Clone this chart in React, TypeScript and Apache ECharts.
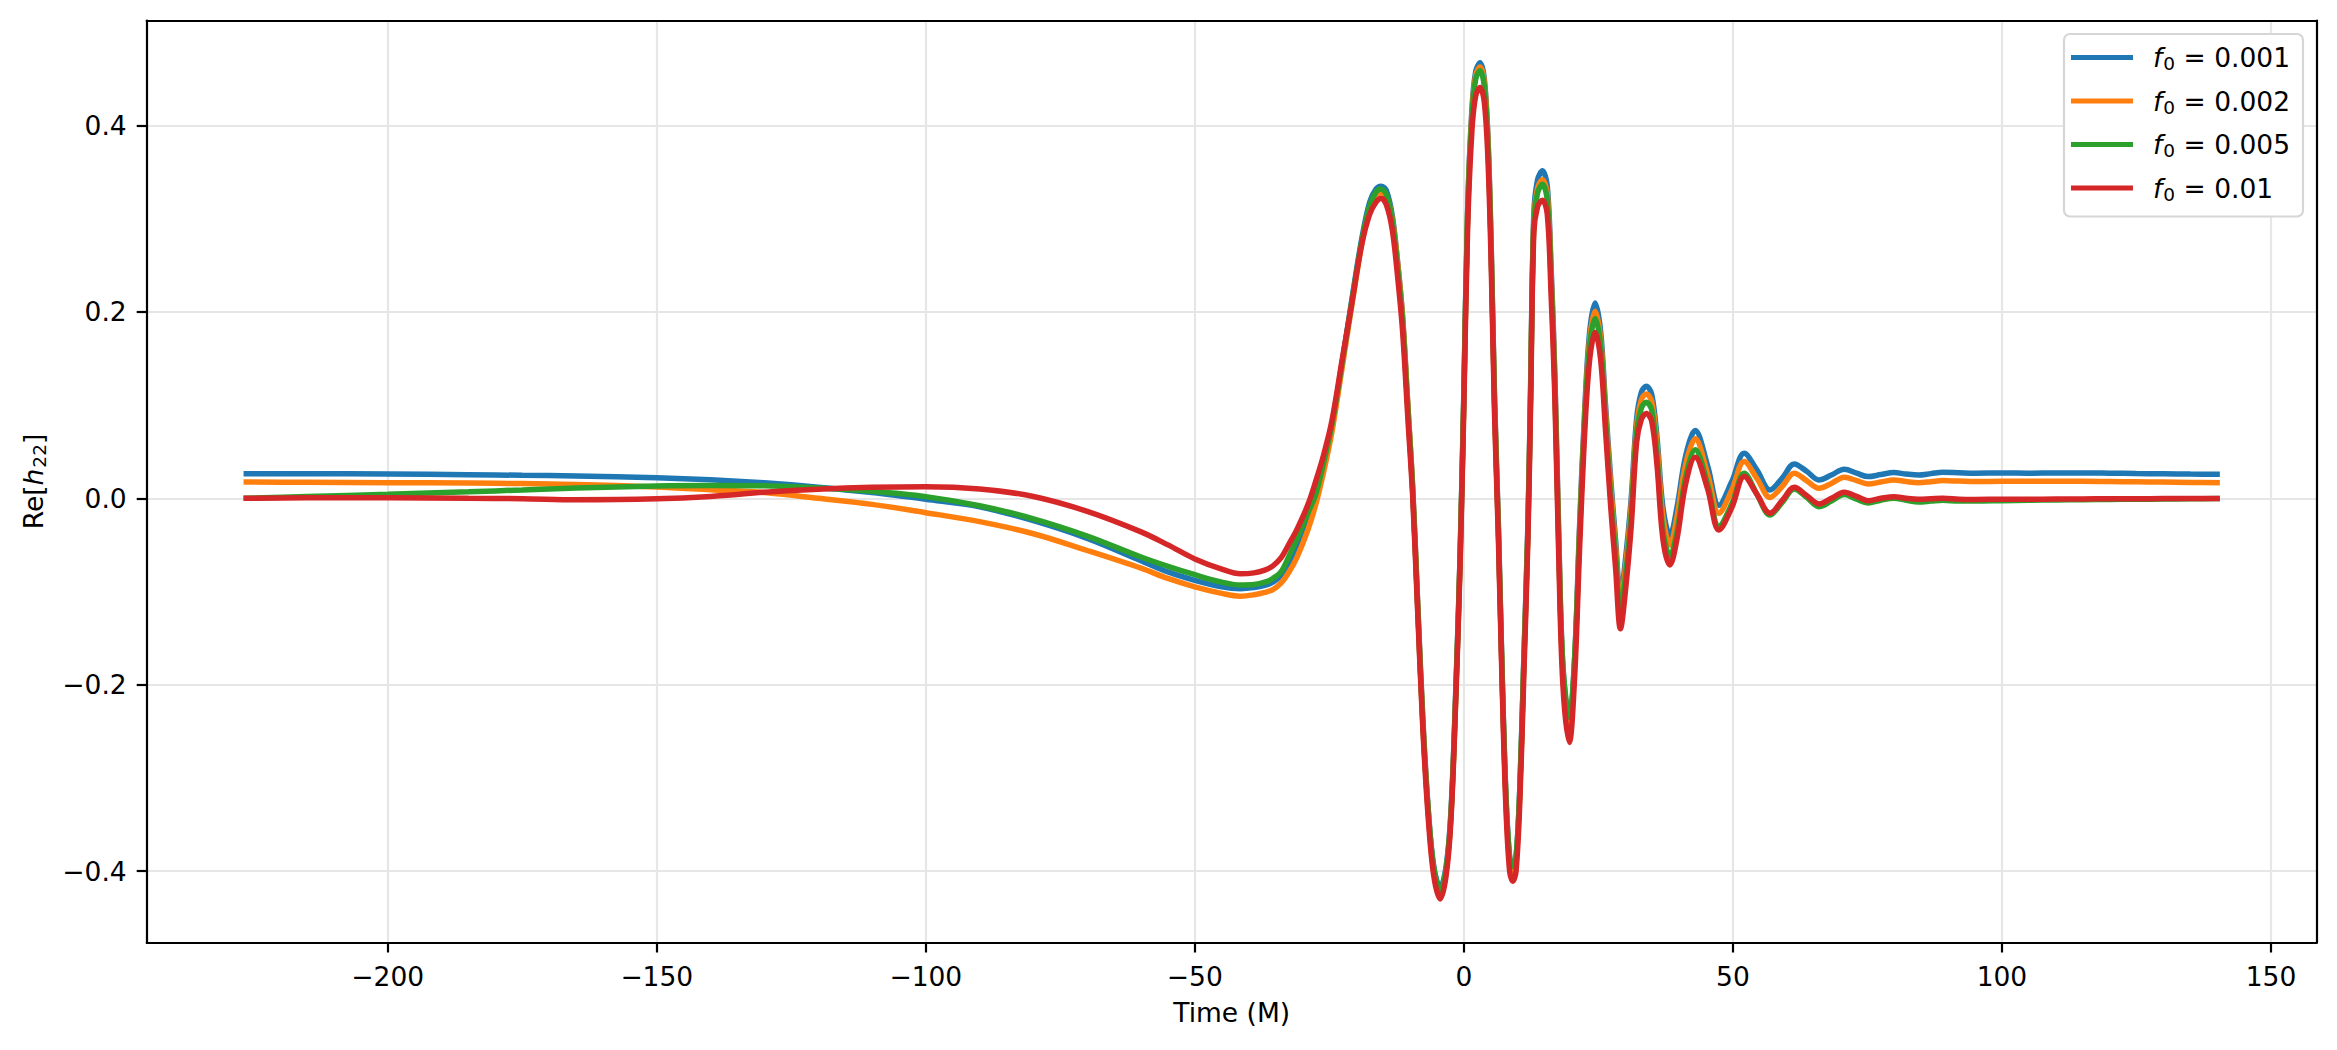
import React, { useEffect, useRef } from "react";
import * as echarts from "echarts";

const FONT = "DejaVu Sans";

// Time (M) sample grid shared by all series
const TIME = [
  -226.8, -215, -200, -185, -175, -165, -150, -140, -130, -120,
  -110, -100, -90, -80, -70, -60, -55, -50, -45, -41.5,
  -39, -37, -35.5, -34, -32.5, -31, -29, -27.5, -26, -24.5, -22.5, -20.8, -19,
  -17.5, -16.3, -15.4, -14.4, -13.3, -12.3, -11.4, -10.4, -9.5, -8.6,
  -7.6, -6.6, -5.6, -4.4, -3.3, -2.4, -1.5, -0.7, 0, 0.7,
  1.5, 2.2, 3.0, 3.8, 4.5, 5.1, 5.7, 6.4, 7.1, 7.8,
  8.5, 9.1, 9.7, 10.4, 11.1, 11.9, 12.4, 13.0, 13.7, 14.6,
  15.5, 16.2, 16.9, 17.6, 18.4, 19.6, 20.6, 21.5, 22.5, 23.4,
  24.4, 25.4, 26.3, 27.3, 28.2, 29.1, 30.1, 31.1, 32.1, 33.0,
  33.9, 34.9, 35.9, 37.0, 38.3, 39.6, 41.2, 43.0, 45.3, 47.4,
  49.8, 52.1, 54.5, 56.9, 59.2, 61.4, 63.7, 66.0, 68.3, 70.7,
  73.0, 75.1, 77.5, 79.9, 82.2, 84.5, 86.8, 89, 92, 95,
  100, 105, 110, 115, 120, 125, 130, 135, 140.5,
];

const H_F0_001 = [
  0.0265, 0.0264, 0.0262, 0.0254, 0.0247, 0.0240, 0.0222, 0.020, 0.0166, 0.012,
  0.0062, -0.001, -0.009, -0.024, -0.043, -0.067, -0.079, -0.088, -0.095, -0.097,
  -0.0958, -0.0935, -0.090, -0.083, -0.070, -0.053, -0.025, -0.002, 0.036, 0.077, 0.150, 0.214, 0.278,
  0.318, 0.332, 0.335, 0.330, 0.303, 0.253, 0.196, 0.098, 0.010, -0.110,
  -0.240, -0.335, -0.395, -0.418, -0.395, -0.336, -0.205, -0.060, 0.115, 0.310,
  0.418, 0.458, 0.4675, 0.450, 0.384, 0.265, 0.108, -0.025, -0.185, -0.315,
  -0.385, -0.395, -0.385, -0.310, -0.180, -0.028, 0.120, 0.305, 0.342, 0.3515,
  0.335, 0.250, 0.135, -0.030, -0.180, -0.240, -0.170, -0.030, 0.100, 0.180,
  0.2097, 0.180, 0.102, 0.020, -0.045, -0.105, -0.062, 0.000, 0.085, 0.114,
  0.1203, 0.112, 0.065, -0.010, -0.040, -0.010, 0.045, 0.0728, 0.035, -0.0075,
  0.018, 0.0484, 0.030, 0.009, 0.022, 0.0369, 0.029, 0.0197, 0.025, 0.0312,
  0.027, 0.0233, 0.0255, 0.0276, 0.026, 0.025, 0.0265, 0.028, 0.0275, 0.027,
  0.0272, 0.0270, 0.0272, 0.0273, 0.0270, 0.0266, 0.0263, 0.026, 0.0258,
];

const H_F0_002 = [
  0.0176, 0.0172, 0.0168, 0.0164, 0.0158, 0.0148, 0.0122, 0.0092, 0.0062, 0.000,
  -0.0065, -0.0154, -0.025, -0.038, -0.056, -0.075, -0.086, -0.095, -0.102, -0.105,
  -0.1035, -0.101, -0.098, -0.091, -0.079, -0.063, -0.034, -0.006, 0.030, 0.072, 0.145, 0.208, 0.272,
  0.312, 0.326, 0.328, 0.324, 0.300, 0.252, 0.195, 0.099, 0.010, -0.112,
  -0.242, -0.338, -0.400, -0.424, -0.400, -0.340, -0.210, -0.062, 0.110, 0.306,
  0.414, 0.454, 0.463, 0.447, 0.380, 0.262, 0.104, -0.030, -0.190, -0.320,
  -0.390, -0.400, -0.390, -0.315, -0.185, -0.033, 0.115, 0.298, 0.333, 0.342,
  0.327, 0.242, 0.128, -0.036, -0.186, -0.245, -0.176, -0.036, 0.093, 0.172,
  0.2007, 0.172, 0.095, 0.012, -0.052, -0.112, -0.070, -0.008, 0.077, 0.106,
  0.112, 0.104, 0.057, -0.020, -0.050, -0.020, 0.036, 0.0638, 0.026, -0.016,
  0.009, 0.0394, 0.021, 0.001, 0.013, 0.027, 0.019, 0.0108, 0.016, 0.0226,
  0.019, 0.0154, 0.0175, 0.0197, 0.018, 0.0168, 0.0178, 0.019, 0.0185, 0.018,
  0.0182, 0.0182, 0.0183, 0.0183, 0.018, 0.0177, 0.0174, 0.0171, 0.0168,
];

const H_F0_005 = [
  0.000, 0.002, 0.0043, 0.007, 0.009, 0.011, 0.0133, 0.0138, 0.0135, 0.011,
  0.0075, 0.0018, -0.008, -0.022, -0.0405, -0.063, -0.073, -0.082, -0.090, -0.093,
  -0.0925, -0.090, -0.086, -0.079, -0.062, -0.043, -0.016, 0.005, 0.040, 0.080, 0.150, 0.212, 0.275,
  0.314, 0.329, 0.332, 0.326, 0.298, 0.247, 0.190, 0.094, 0.006, -0.115,
  -0.245, -0.338, -0.396, -0.421, -0.398, -0.340, -0.210, -0.065, 0.110, 0.305,
  0.410, 0.450, 0.459, 0.442, 0.375, 0.258, 0.100, -0.032, -0.188, -0.318,
  -0.385, -0.395, -0.385, -0.312, -0.185, -0.035, 0.110, 0.295, 0.328, 0.337,
  0.320, 0.235, 0.122, -0.043, -0.180, -0.235, -0.170, -0.040, 0.088, 0.165,
  0.193, 0.165, 0.088, 0.000, -0.060, -0.121, -0.080, -0.018, 0.070, 0.097,
  0.103, 0.095, 0.045, -0.035, -0.062, -0.036, 0.022, 0.052, 0.015, -0.030,
  -0.006, 0.027, 0.004, -0.018, -0.004, 0.010, 0.001, -0.009, -0.003, 0.004,
  -0.001, -0.005, -0.002, 0.000, -0.002, -0.004, -0.003, -0.002, -0.003, -0.003,
  -0.0025, -0.002, -0.0018, -0.0015, -0.0012, -0.001, -0.0008, -0.0005, -0.0003,
];

const H_F0_01 = [
  0.000, 0.0005, 0.0007, 0.000, -0.0004, -0.0015, -0.0005, 0.002, 0.0065, 0.0098,
  0.0118, 0.0125, 0.010, 0.002, -0.014, -0.036, -0.050, -0.065, -0.076, -0.081,
  -0.080, -0.077, -0.0725, -0.064, -0.049, -0.033, -0.007, 0.019, 0.048, 0.084, 0.153, 0.210, 0.272,
  0.305, 0.318, 0.322, 0.315, 0.288, 0.237, 0.180, 0.085, 0.000, -0.120,
  -0.250, -0.345, -0.405, -0.430, -0.405, -0.345, -0.215, -0.070, 0.100, 0.290,
  0.395, 0.432, 0.441, 0.425, 0.360, 0.245, 0.090, -0.040, -0.198, -0.330,
  -0.400, -0.411, -0.400, -0.325, -0.198, -0.044, 0.100, 0.285, 0.313, 0.320,
  0.305, 0.220, 0.110, -0.055, -0.200, -0.262, -0.190, -0.055, 0.075, 0.150,
  0.178, 0.150, 0.075, -0.010, -0.075, -0.140, -0.095, -0.030, 0.060, 0.085,
  0.091, 0.083, 0.035, -0.044, -0.0715, -0.044, 0.015, 0.044, 0.010, -0.034,
  -0.010, 0.0233, 0.004, -0.016, -0.002, 0.0118, 0.003, -0.006, 0.000, 0.0065,
  0.002, -0.0025, 0.000, 0.0018, 0.000, -0.001, -0.0005, 0.000, -0.001, -0.0012,
  -0.001, -0.001, -0.0008, -0.0006, -0.0005, -0.0004, -0.0003, -0.0002, -0.0001,
];

const SERIES_NAMES = ["f0 = 0.001", "f0 = 0.002", "f0 = 0.005", "f0 = 0.01"];
const SERIES_VALUES = [H_F0_001, H_F0_002, H_F0_005, H_F0_01];
const SERIES_COLORS = ["#1f77b4", "#ff7f0e", "#2ca02c", "#d62728"];

const X_TICKS = [-200, -150, -100, -50, 0, 50, 100, 150];
const Y_TICKS = [-0.4, -0.2, 0.0, 0.2, 0.4];

const X_MIN = -244.8;
const X_MAX = 158.5;
const Y_MIN = -0.4767;
const Y_MAX = 0.5128;

const minus = (s: string) => s.replace("-", "\u2212");

export default function App() {
  const ref = useRef<HTMLDivElement>(null);

  useEffect(() => {
    document.body.style.margin = "0";
    document.body.style.overflow = "hidden";
    if (!ref.current) return;
    const chart = echarts.init(ref.current, null, { renderer: "svg" });

    const axisLineStyle = { color: "#000", width: 2.2 };
    const labelStyle = { fontFamily: FONT, fontSize: 26.5, color: "#000" };
    const subStyle = { fontFamily: FONT, fontSize: 18.5, color: "#000", lineHeight: 18, padding: [12, 0, 0, 1] };

    const option: any = {
      animation: false,
      backgroundColor: "#fff",
      textStyle: { fontFamily: FONT },
      grid: { left: 146.7, top: 20.5, width: 2170, height: 922, show: false },
      xAxis: [
        {
          type: "value",
          min: X_MIN,
          max: X_MAX,
          splitNumber: 8,
          axisLine: { show: true, onZero: false, lineStyle: axisLineStyle },
          axisTick: { show: true, length: 10, lineStyle: axisLineStyle, customValues: X_TICKS },
          axisLabel: {
            ...labelStyle,
            margin: 20,
            customValues: X_TICKS,
            formatter: (v: number) => minus(String(v)),
          },
          splitLine: { show: true, lineStyle: { color: "#e6e6e6", width: 2.2 } },
          name: "Time (M)",
          nameLocation: "middle",
          nameGap: 56,
          nameTextStyle: { ...labelStyle },
        },
        {
          type: "value",
          position: "top",
          min: X_MIN,
          max: X_MAX,
          axisLine: { show: true, onZero: false, lineStyle: axisLineStyle },
          axisTick: { show: false },
          axisLabel: { show: false },
          splitLine: { show: false },
        },
      ],
      yAxis: [
        {
          type: "value",
          min: Y_MIN,
          max: Y_MAX,
          splitNumber: 5,
          axisLine: { show: true, onZero: false, lineStyle: axisLineStyle },
          axisTick: { show: true, length: 10, lineStyle: axisLineStyle, customValues: Y_TICKS },
          axisLabel: {
            ...labelStyle,
            margin: 20,
            customValues: Y_TICKS,
            formatter: (v: number) => minus(v.toFixed(1)),
          },
          splitLine: { show: true, lineStyle: { color: "#e6e6e6", width: 2.2 } },
          name: "{a|Re[}{b|h}{s|22}{a|]}",
          nameLocation: "middle",
          nameRotate: 90,
          nameGap: 98,
          nameTextStyle: {
            ...labelStyle,
            rich: {
              a: { fontFamily: FONT, fontSize: 26.5, color: "#000", lineHeight: 30 },
              b: { fontFamily: FONT, fontSize: 26.5, color: "#000", fontStyle: "italic", lineHeight: 30 },
              s: subStyle,
            },
          },
        },
        {
          type: "value",
          position: "right",
          min: Y_MIN,
          max: Y_MAX,
          axisLine: { show: true, onZero: false, lineStyle: axisLineStyle },
          axisTick: { show: false },
          axisLabel: { show: false },
          splitLine: { show: false },
        },
      ],
      legend: {
        orient: "vertical",
        right: 34,
        top: 34,
        backgroundColor: "#fff",
        borderColor: "#d6d6d6",
        borderWidth: 2.2,
        borderRadius: 6,
        padding: [8, 13, 13, 7],
        itemWidth: 62,
        itemHeight: 5,
        itemGap: 12.5,
        icon: "rect",
        data: SERIES_NAMES,
        formatter: (name: string) => {
          const val = name.split("= ")[1];
          return `{i|f}{s|0}{t| = ${val}}`;
        },
        textStyle: {
          fontFamily: FONT,
          fontSize: 26.5,
          color: "#000",
          lineHeight: 30,
          rich: {
            i: { fontFamily: FONT, fontSize: 26.5, fontStyle: "italic", color: "#000", lineHeight: 30, padding: [0, 0, 0, 15] },
            s: subStyle,
            t: { fontFamily: FONT, fontSize: 26.5, color: "#000", lineHeight: 30 },
          },
        },
      },
      series: SERIES_NAMES.map((name, k) => ({
        type: "line",
        name,
        xAxisIndex: 0,
        yAxisIndex: 0,
        data: TIME.map((t, i) => [t, SERIES_VALUES[k][i]]),
        showSymbol: false,
        symbol: "none",
        smooth: 0.35,
        color: SERIES_COLORS[k],
        lineStyle: { width: 5.5, color: SERIES_COLORS[k] },
        itemStyle: { color: SERIES_COLORS[k] },
        clip: true,
        z: 2 + k,
      })),
    };

    chart.setOption(option);
    return () => chart.dispose();
  }, []);

  return <div ref={ref} style={{ width: 2337, height: 1050 }} />;
}
